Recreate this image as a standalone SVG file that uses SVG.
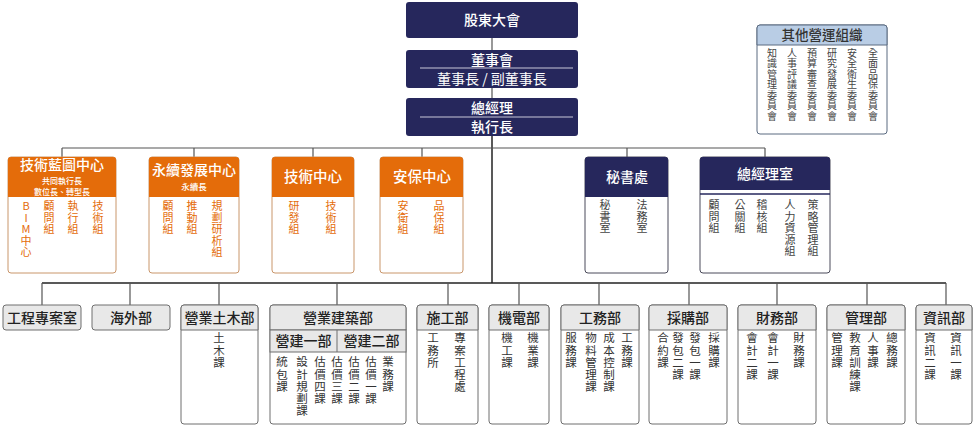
<svg xmlns="http://www.w3.org/2000/svg" width="978" height="426" viewBox="0 0 978 426">
<style>
text{font-family:"Noto Sans CJK TC","Noto Sans CJK SC",sans-serif;text-anchor:middle}
.v{writing-mode:vertical-rl;text-orientation:upright;text-anchor:start}
.nv{fill:#26275c}
.wt{fill:#fff}
.t14{font-size:14px;font-weight:500}
.t8{font-size:8px;font-weight:500}
.or{fill:#e46c0a}
.obox{fill:#fff;stroke:#c9966b;stroke-width:1}
.nbox{fill:#fff;stroke:#4a4a5a;stroke-width:1}
.gbox{fill:#fff;stroke:#6e6e6e;stroke-width:1}
.ghd{fill:#e8e8e8;stroke:#6e6e6e;stroke-width:1}
.hd{font-size:14px;font-weight:500;fill:#222}
.ob{font-size:11px;fill:#e46c0a;letter-spacing:0.5px}
.nb{font-size:11px;fill:#444;letter-spacing:0.5px}
.gb{font-size:11.5px;fill:#333;letter-spacing:0.7px}
.lg{font-size:10px;fill:#444;letter-spacing:0.5px}
.ln{fill:none;stroke:#555;stroke-width:1.2}
.lk{fill:none;stroke:#222;stroke-width:1.5}
</style>

<g id="connectors">
<path class="ln" d="M492,38V50M492,88V98"/>
<path class="lk" d="M492,136V283"/>
<path class="ln" d="M62,148H765M62,148V157M194,148V157M313,148V157M422,148V157M627,148V157M765,148V157"/>
<path class="lk" d="M42,283H946"/>
<path class="ln" d="M42,283V305M130,283V305M219,283V305M337,283V305M448,283V305M519,283V305M599,283V305M689,283V305M777,283V305M867,283V305M946,283V305"/>
</g>

<g id="gm">
<rect class="nv" x="406" y="2" width="172" height="36" rx="3"/>
<text class="wt t14" x="492" y="25">股東大會</text>
</g>
<g id="board">
<rect class="nv" x="406" y="50" width="172" height="38" rx="3"/>
<text class="wt t14" x="492" y="65">董事會</text>
<line x1="420" y1="68" x2="573" y2="68" stroke="#c8c8d8" stroke-width="1"/>
<text class="wt" style="font-size:14px" x="492" y="84">董事長 / 副董事長</text>
</g>
<g id="ceo">
<rect class="nv" x="406" y="98" width="172" height="38" rx="3"/>
<text class="wt t14" x="492" y="113">總經理</text>
<line x1="420" y1="117" x2="573" y2="117" stroke="#c8c8d8" stroke-width="1"/>
<text class="wt t14" x="492" y="132">執行長</text>
</g>

<g id="others">
<rect x="757" y="25" width="130" height="109" rx="3" fill="#fff" stroke="#5a6a80"/>
<path d="M757,28a3,3 0 0 1 3,-3h124a3,3 0 0 1 3,3V45H757Z" fill="#b9cde5" stroke="#5a6a80"/>
<text x="822" y="40" style="font-size:13.5px;font-weight:500;fill:#333">其他營運組織</text>
<text class="lg v" x="772" y="48">知識管理委員會</text>
<text class="lg v" x="792" y="48">人事評議委員會</text>
<text class="lg v" x="812" y="48">預算審查委員會</text>
<text class="lg v" x="832" y="48">研究發展委員會</text>
<text class="lg v" x="852" y="48">安全衛生委員會</text>
<text class="lg v" x="873" y="48">全面品保委員會</text>
</g>

<g id="tech-blueprint">
<rect class="obox" x="8" y="157" width="108" height="116" rx="3"/>
<path class="or" d="M8,160a3,3 0 0 1 3,-3h102a3,3 0 0 1 3,3V197H8Z"/>
<text class="wt" style="font-size:14px;font-weight:500" x="62" y="169.5">技術藍圖中心</text>
<text class="wt t8" x="62" y="183.5">共同執行長</text>
<text class="wt t8" x="62" y="195.2">數位長、轉型長</text>
<text class="ob v" x="26" y="200.5">BIM中心</text>
<text class="ob v" x="49" y="200.5">顧問組</text>
<text class="ob v" x="73" y="200.5">執行組</text>
<text class="ob v" x="98" y="200.5">技術組</text>
</g>

<g id="sustain">
<rect class="obox" x="149" y="157" width="90" height="116" rx="3"/>
<path class="or" d="M149,160a3,3 0 0 1 3,-3h84a3,3 0 0 1 3,3V197H149Z"/>
<text class="wt" style="font-size:14px;font-weight:500" x="194" y="175">永續發展中心</text>
<text class="wt" style="font-size:8.5px;font-weight:500" x="194" y="190">永續長</text>
<text class="ob v" x="168" y="200.5">顧問組</text>
<text class="ob v" x="192" y="200.5">推動組</text>
<text class="ob v" x="217" y="200.5">規劃研析組</text>
</g>

<g id="tech-center">
<rect class="obox" x="272" y="157" width="82" height="116" rx="3"/>
<path class="or" d="M272,160a3,3 0 0 1 3,-3h76a3,3 0 0 1 3,3V197H272Z"/>
<text class="wt" style="font-size:14.5px;font-weight:500" x="313" y="182">技術中心</text>
<text class="ob v" x="294" y="200.5">研發組</text>
<text class="ob v" x="331" y="200.5">技術組</text>
</g>

<g id="safety-center">
<rect class="obox" x="380" y="157" width="83" height="116" rx="3"/>
<path class="or" d="M380,160a3,3 0 0 1 3,-3h77a3,3 0 0 1 3,3V197H380Z"/>
<text class="wt" style="font-size:14.5px;font-weight:500" x="422" y="182">安保中心</text>
<text class="ob v" x="403" y="200.5">安衛組</text>
<text class="ob v" x="439" y="200.5">品保組</text>
</g>

<g id="secretariat">
<rect class="nbox" x="585" y="157" width="83" height="116" rx="3"/>
<path class="nv" d="M585,160a3,3 0 0 1 3,-3h77a3,3 0 0 1 3,3V197H585Z"/>
<text class="wt t14" x="627" y="182">秘書處</text>
<text class="nb v" x="605" y="199.5">秘書室</text>
<text class="nb v" x="642" y="199.5">法務室</text>
</g>

<g id="gm-office">
<rect class="nbox" x="700" y="157" width="130" height="116" rx="3"/>
<path class="nv" d="M700,160a3,3 0 0 1 3,-3h124a3,3 0 0 1 3,3V190H700Z"/>
<line x1="700" y1="194" x2="830" y2="194" stroke="#26275c" stroke-width="1.5"/>
<text class="wt t14" x="765" y="179">總經理室</text>
<text class="nb v" x="714" y="199.5">顧問組</text>
<text class="nb v" x="740" y="199.5">公關組</text>
<text class="nb v" x="762" y="199.5">稽核組</text>
<text class="nb v" x="790" y="199.5">人力資源組</text>
<text class="nb v" x="813" y="199.5">策略管理組</text>
</g>

<g id="project-office">
<rect class="ghd" x="3" y="305" width="78" height="25" rx="3"/>
<text class="hd" x="42" y="323">工程專案室</text>
</g>
<g id="overseas">
<rect class="ghd" x="92" y="305" width="78" height="25" rx="3"/>
<text class="hd" x="131" y="323">海外部</text>
</g>
<g id="civil">
<rect class="gbox" x="181" y="305" width="77" height="119" rx="3"/>
<path class="ghd" d="M181,308a3,3 0 0 1 3,-3h71a3,3 0 0 1 3,3V330H181Z"/>
<text class="hd" x="219.5" y="323">營業土木部</text>
<text class="gb v" x="219" y="332.3">土木課</text>
</g>
<g id="building">
<rect class="gbox" x="270" y="305" width="136" height="119" rx="3"/>
<path class="ghd" d="M270,308a3,3 0 0 1 3,-3h130a3,3 0 0 1 3,3V330H270Z"/>
<rect class="ghd" x="270" y="330" width="136" height="22"/>
<line x1="337" y1="330" x2="337" y2="352" stroke="#6e6e6e"/>
<text class="hd" x="338" y="323">營業建築部</text>
<text class="hd" x="303.5" y="346">營建一部</text>
<text class="hd" x="371.5" y="346">營建二部</text>
<text class="gb v" x="282" y="356.3">統包課</text>
<text class="gb v" x="302" y="356.3">設計規劃課</text>
<text class="gb v" x="320" y="356.3">估價四課</text>
<text class="gb v" x="337" y="356.3">估價三課</text>
<text class="gb v" x="354" y="356.3">估價二課</text>
<text class="gb v" x="371" y="356.3">估價一課</text>
<text class="gb v" x="388" y="356.3">業務課</text>
</g>
<g id="construction">
<rect class="gbox" x="417" y="305" width="61" height="119" rx="3"/>
<path class="ghd" d="M417,308a3,3 0 0 1 3,-3h55a3,3 0 0 1 3,3V330H417Z"/>
<text class="hd" x="447.5" y="323">施工部</text>
<text class="gb v" x="433" y="332.3">工務所</text>
<text class="gb v" x="460" y="332.3">專案工程處</text>
</g>
<g id="mep">
<rect class="gbox" x="489" y="305" width="60" height="119" rx="3"/>
<path class="ghd" d="M489,308a3,3 0 0 1 3,-3h54a3,3 0 0 1 3,3V330H489Z"/>
<text class="hd" x="519" y="323">機電部</text>
<text class="gb v" x="507" y="332.3">機工課</text>
<text class="gb v" x="533" y="332.3">機業課</text>
</g>
<g id="works">
<rect class="gbox" x="561" y="305" width="78" height="119" rx="3"/>
<path class="ghd" d="M561,308a3,3 0 0 1 3,-3h72a3,3 0 0 1 3,3V330H561Z"/>
<text class="hd" x="600" y="323">工務部</text>
<text class="gb v" x="571" y="332.3">服務課</text>
<text class="gb v" x="591" y="332.3">物料管理課</text>
<text class="gb v" x="609" y="332.3">成本控制課</text>
<text class="gb v" x="627" y="332.3">工務課</text>
</g>
<g id="purchasing">
<rect class="gbox" x="649" y="305" width="78" height="119" rx="3"/>
<path class="ghd" d="M649,308a3,3 0 0 1 3,-3h72a3,3 0 0 1 3,3V330H649Z"/>
<text class="hd" x="688" y="323">採購部</text>
<text class="gb v" x="663" y="332.3">合約課</text>
<text class="gb v" x="678" y="332.3">發包二課</text>
<text class="gb v" x="695" y="332.3">發包一課</text>
<text class="gb v" x="714" y="332.3">採購課</text>
</g>
<g id="finance">
<rect class="gbox" x="738" y="305" width="78" height="119" rx="3"/>
<path class="ghd" d="M738,308a3,3 0 0 1 3,-3h72a3,3 0 0 1 3,3V330H738Z"/>
<text class="hd" x="777" y="323">財務部</text>
<text class="gb v" x="752" y="332.3">會計二課</text>
<text class="gb v" x="773" y="332.3">會計一課</text>
<text class="gb v" x="799" y="332.3">財務課</text>
</g>
<g id="admin">
<rect class="gbox" x="827" y="305" width="78" height="119" rx="3"/>
<path class="ghd" d="M827,308a3,3 0 0 1 3,-3h72a3,3 0 0 1 3,3V330H827Z"/>
<text class="hd" x="866" y="323">管理部</text>
<text class="gb v" x="837" y="332.3">管理課</text>
<text class="gb v" x="855" y="332.3">教育訓練課</text>
<text class="gb v" x="873" y="332.3">人事課</text>
<text class="gb v" x="892" y="332.3">總務課</text>
</g>
<g id="it">
<rect class="gbox" x="916" y="305" width="56" height="119" rx="3"/>
<path class="ghd" d="M916,308a3,3 0 0 1 3,-3h50a3,3 0 0 1 3,3V330H916Z"/>
<text class="hd" x="944" y="323">資訊部</text>
<text class="gb v" x="930" y="332.3">資訊二課</text>
<text class="gb v" x="956" y="332.3">資訊一課</text>
</g>
</svg>
